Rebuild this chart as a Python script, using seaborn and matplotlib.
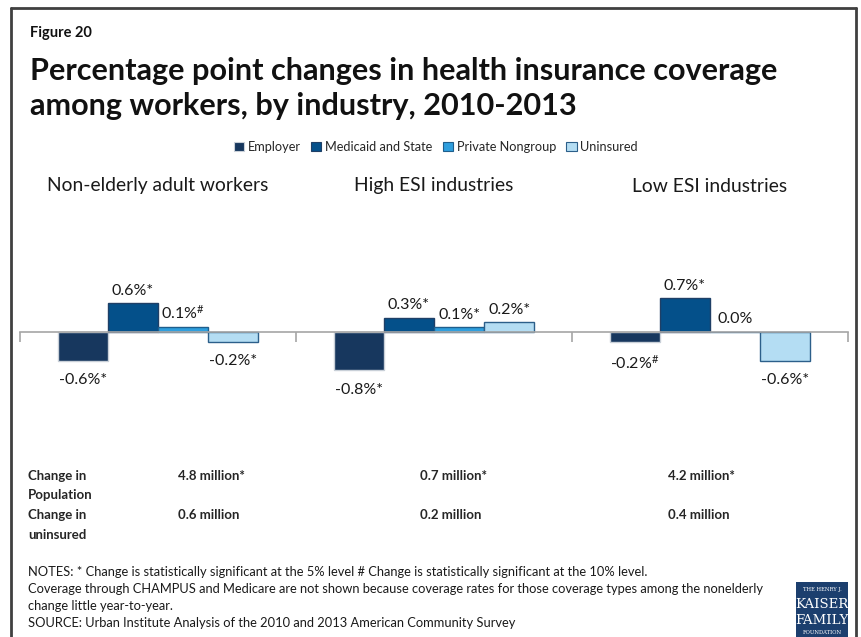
import matplotlib
matplotlib.use("Agg")
import matplotlib.pyplot as plt
from matplotlib.patches import Patch, Rectangle
from matplotlib.lines import Line2D
import pandas as pd
import seaborn as sns

# ---- data ----
groups = ["Non-elderly adult workers", "High ESI industries", "Low ESI industries"]
coverage_types = ["Employer", "Medicaid and State", "Private Nongroup", "Uninsured"]
employer = [-0.6, -0.8, -0.2]
medicaid_state = [0.6, 0.3, 0.7]
private_nongroup = [0.1, 0.1, 0.0]
uninsured = [-0.2, 0.2, -0.6]
# significance markers: "*" = 5% level, "#" = 10% level
employer_sig = ["*", "*", "#"]
medicaid_sig = ["*", "*", "*"]
private_sig = ["#", "*", ""]
uninsured_sig = ["*", "*", "*"]
pop_change = ["4.8 million*", "0.7 million*", "4.2 million*"]
uninsured_change = ["0.6 million", "0.2 million", "0.4 million"]

colors = ["#17375E", "#04508A", "#2F9FDE", "#B4DDF3"]
edges = ["#C9D0D8", "#1F3F66", "#1F5E8C", "#2C5F8A"]

values = [employer, medicaid_state, private_nongroup, uninsured]
sigs = [employer_sig, medicaid_sig, private_sig, uninsured_sig]
rows = []
for ct, vals in zip(coverage_types, values):
    for g, v in zip(groups, vals):
        rows.append({"group": g, "coverage": ct, "change": v})
df = pd.DataFrame(rows)

sns.set_theme(style="white")
FONT = ["Lato", "DejaVu Sans"]
plt.rcParams["font.family"] = FONT
plt.rcParams["mathtext.fontset"] = "custom"
plt.rcParams["mathtext.rm"] = "Lato"
plt.rcParams["mathtext.default"] = "rm"

W, H = 861, 637
fig = plt.figure(figsize=(W / 100, H / 100), dpi=100)


def fx(px):
    return px / W


def fy(py):
    return 1 - py / H


# axes spans x 20..848 px, y 236..428 px with ylim [-2, 2]
ax = fig.add_axes([fx(20), fy(428), fx(848) - fx(20), fy(236) - fy(428)])
sns.barplot(data=df, x="group", y="change", hue="coverage", order=groups,
            hue_order=coverage_types, palette=colors, width=0.727,
            saturation=1, ax=ax, legend=False)

for cont, sig, vals, ec in zip(ax.containers, sigs, values, edges):
    for bar in cont:
        bar.set_edgecolor(ec)
        bar.set_linewidth(1.0)
    labels = []
    for v, s in zip(vals, sig):
        txt = f"{v:.1f}%"
        if s == "#":
            txt += r"$^{\#}$"
        elif s == "*":
            txt += "*"
        labels.append(txt)
    pos_labels = [t if v >= 0 else "" for t, v in zip(labels, vals)]
    neg_labels = [t if v < 0 else "" for t, v in zip(labels, vals)]
    ax.bar_label(cont, labels=pos_labels, padding=4, fontsize=11.5, color="#1a1a1a")
    ax.bar_label(cont, labels=neg_labels, padding=9, fontsize=11.5, color="#1a1a1a")

ax.set_xlim(-0.5, 2.5)
ax.set_ylim(-2, 2)
for s in ["top", "right", "left"]:
    ax.spines[s].set_visible(False)
ax.spines["bottom"].set_position(("data", 0))
ax.spines["bottom"].set_color("#A6A6A6")
ax.spines["bottom"].set_linewidth(1.2)
ax.set_xticks([-0.5, 0.5, 1.5, 2.5])
ax.set_xticklabels([])
ax.tick_params(axis="x", direction="out", length=7, width=1.2, color="#A6A6A6", bottom=True)
ax.set_yticks([])
ax.set_xlabel("")
ax.set_ylabel("")
ax.patch.set_alpha(0)

# group titles
for g, cx in zip(groups, [158, 434, 710]):
    fig.text(fx(cx), fy(186), g, ha="center", va="center", fontsize=13.9, color="#1a1a1a")

# legend
handles = [Patch(facecolor=c, edgecolor=e, linewidth=0.8) for c, e in zip(colors, edges)]
fig.legend(handles, coverage_types, loc="center", bbox_to_anchor=(fx(436), fy(147)),
           ncol=4, frameon=False, fontsize=9.2, handlelength=0.8, handleheight=0.8,
           handletextpad=0.3, columnspacing=0.8)

# title block
fig.text(fx(30), fy(33), "Figure 20", fontsize=10.5, fontweight="bold", va="center", color="#111111")
fig.text(fx(30), fy(71), "Percentage point changes in health insurance coverage",
         fontsize=22.1, fontweight="bold", va="center", color="#111111")
fig.text(fx(30), fy(106), "among workers, by industry, 2010-2013",
         fontsize=22.1, fontweight="bold", va="center", color="#111111")

# population table
fig.text(fx(28), fy(476), "Change in", fontsize=9.5, fontweight="bold", va="center")
fig.text(fx(28), fy(495), "Population", fontsize=9.5, fontweight="bold", va="center")
fig.text(fx(28), fy(515), "Change in", fontsize=9.5, fontweight="bold", va="center")
fig.text(fx(28), fy(535), "uninsured", fontsize=9.5, fontweight="bold", va="center")
for px_, a, b in zip([178, 420, 668], pop_change, uninsured_change):
    fig.text(fx(px_), fy(476), a, fontsize=9.5, fontweight="bold", va="center")
    fig.text(fx(px_), fy(515), b, fontsize=9.5, fontweight="bold", va="center")

# notes
notes = [
    "NOTES: * Change is statistically significant at the 5% level # Change is statistically significant at the 10% level.",
    "Coverage through CHAMPUS and Medicare are not shown because coverage rates for those coverage types among the nonelderly",
    "change little year-to-year.",
    "SOURCE: Urban Institute Analysis of the 2010 and 2013 American Community Survey",
]
for i, line in enumerate(notes):
    fig.text(fx(28), fy(572 + i * 17), line, fontsize=9.3, va="center", color="#1a1a1a")

# foundation logo
logo = Rectangle((fx(796), fy(637)), fx(848) - fx(796), fy(582) - fy(637),
                 transform=fig.transFigure, facecolor="#1C3F6E", edgecolor="none")
fig.add_artist(logo)
for txt, y, fs in [("THE HENRY J.", 590, 3.8), ("KAISER", 604, 9.5),
                   ("FAMILY", 620, 9.5), ("FOUNDATION", 633, 3.8)]:
    fig.text(fx(822), fy(y), txt, ha="center", va="center", fontsize=fs,
             color="white", family="DejaVu Serif")

# frame
frame_kw = dict(transform=fig.transFigure, color="#404040", linewidth=2)
fig.add_artist(Line2D([fx(11), fx(11)], [fy(8), 0], **frame_kw))
fig.add_artist(Line2D([fx(11), fx(856)], [fy(8), fy(8)], **frame_kw))
fig.add_artist(Line2D([fx(856), fx(856)], [fy(8), 0], **frame_kw))

fig.savefig("out.png", dpi=100, facecolor="white")
